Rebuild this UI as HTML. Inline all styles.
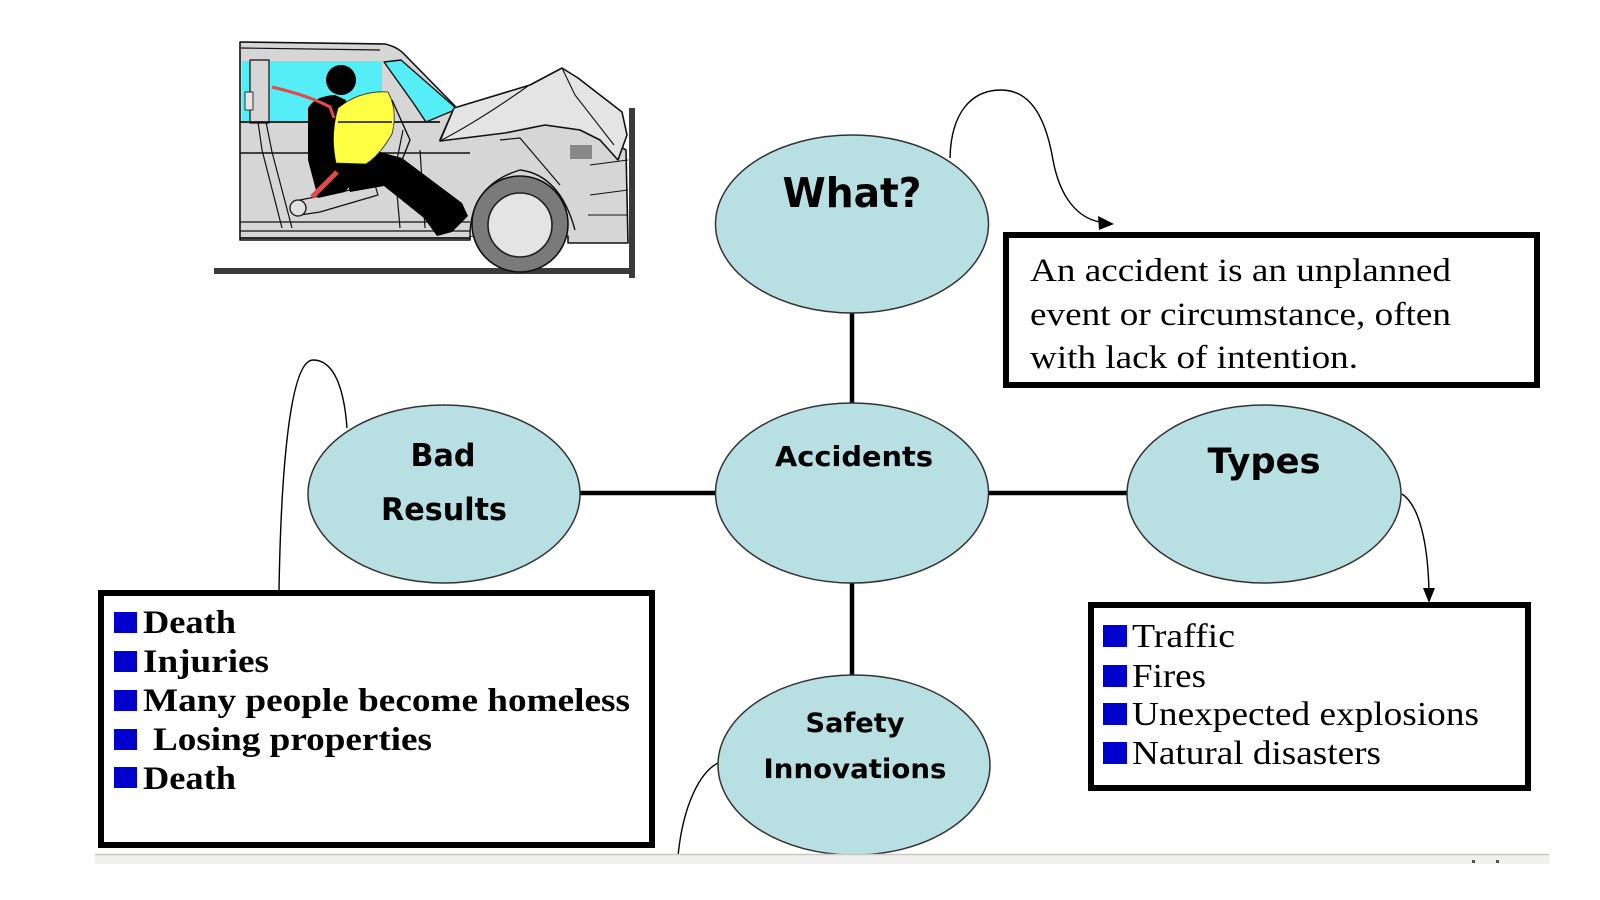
<!DOCTYPE html>
<html>
<head>
<meta charset="utf-8">
<style>
html,body{margin:0;padding:0;background:#fff;}
body{width:1600px;height:900px;overflow:hidden;position:relative;}
svg{position:absolute;left:0;top:0;}
.lbl{font-family:"DejaVu Sans","Liberation Sans",sans-serif;font-weight:bold;fill:#000;}
.ser{font-family:"Liberation Serif","DejaVu Serif",serif;fill:#000;}
.serb{font-family:"Liberation Serif","DejaVu Serif",serif;font-weight:bold;fill:#000;}
</style>
</head>
<body>
<svg width="1600" height="900" viewBox="0 0 1600 900" xmlns="http://www.w3.org/2000/svg">
  <!-- ===== Car illustration ===== -->
  <g stroke-linejoin="round">
    <!-- ground & wall -->
    <rect x="214" y="268" width="418" height="6" fill="#3a3a3a"/>
    <rect x="629" y="108" width="6" height="170" fill="#3a3a3a"/>
    <!-- body -->
    <path d="M240,42 L385,44 Q398,47 405,55 L455,106 L440,140 L530,110 L600,135 L626,150 L628,243 L568,243 L568,236 L470,236 L470,240 L240,240 Z" fill="#d6d6d6" stroke="#111" stroke-width="1.6"/>
    <!-- roof lines -->
    <path d="M241,48 L380,50" stroke="#111" stroke-width="1.2" fill="none"/>
    <!-- rear windows -->
    <rect x="242" y="61" width="140" height="61" fill="#55eef6"/>
    <rect x="250" y="60" width="19" height="63" fill="#d6d6d6" stroke="#111" stroke-width="1.2"/>
    <rect x="245" y="92" width="8" height="18" fill="#e6e6e6" stroke="#333" stroke-width="1"/>
    <!-- windshield -->
    <polygon points="384,62 401,60 457,109 426,122 414,104" fill="#55eef6" stroke="#111" stroke-width="1.4"/>
    <!-- belt lines -->
    <line x1="240" y1="122" x2="440" y2="122" stroke="#111" stroke-width="1.8"/>
    <line x1="240" y1="153" x2="470" y2="153" stroke="#111" stroke-width="1.4"/>
    <line x1="240" y1="222" x2="470" y2="222" stroke="#111" stroke-width="1.2"/>
    <line x1="240" y1="231" x2="470" y2="231" stroke="#111" stroke-width="1.2"/>
    <line x1="240" y1="238" x2="470" y2="238" stroke="#111" stroke-width="1.8"/>
    <!-- door frame lines -->
    <path d="M258,122 L262,150 L282,228" stroke="#111" stroke-width="1.2" fill="none"/>
    <path d="M266,122 L272,152 L292,228" stroke="#111" stroke-width="1.2" fill="none"/>
    <path d="M403,130 L395,170 L400,228" stroke="#111" stroke-width="1.2" fill="none"/>
    <path d="M420,150 L425,228" stroke="#111" stroke-width="1.2" fill="none"/>
    <!-- seat -->
    <path d="M300,200 L350,190 L375,185 L378,195 L320,212 L300,215 Z" fill="#d6d6d6" stroke="#111" stroke-width="1.2"/>
    <circle cx="298" cy="208" r="8" fill="#e0e0e0" stroke="#111" stroke-width="1.3"/>
    <!-- person -->
    <circle cx="341" cy="80" r="15" fill="#000"/>
    <path d="M308,108 Q315,96 335,95 L346,100 L350,160 L362,170 L345,192 L318,198 L308,160 Z" fill="#000"/>
    <path d="M342,165 L380,152 L402,158 L462,203 L468,216 L452,232 L437,236 L424,218 L384,186 L350,192 Z" fill="#000"/>
    <!-- airbag -->
    <path d="M338,108 Q360,90 388,92 Q398,110 392,134 Q380,155 366,164 L336,163 Q330,135 338,108 Z" fill="#ffff44" stroke="#222" stroke-width="0.8"/>
    <line x1="338" y1="122" x2="392" y2="122" stroke="#111" stroke-width="1.4"/>
    <!-- seatbelt -->
    <path d="M272,87 Q310,96 330,107 L334,118" stroke="#e24a4a" stroke-width="3" fill="none"/>
    <line x1="312" y1="197" x2="337" y2="172" stroke="#e24a4a" stroke-width="5"/>
    <!-- steering -->
    <path d="M392,100 L410,140 L402,160" stroke="#111" stroke-width="1.4" fill="none"/>
    <!-- hood crumpled -->
    <path d="M440,141 L454,108 L530,85 L562,68 L578,78 L622,112 L627,135 L618,160 L600,140 L580,130 L545,125 L505,133 Z" fill="#e4e4e4" stroke="#111" stroke-width="1.6"/>
    <path d="M562,68 L575,95 L614,145" stroke="#111" stroke-width="1.1" fill="none"/>
    <path d="M440,141 Q480,120 528,86" stroke="#111" stroke-width="1.1" fill="none"/>
    <!-- fender / front -->
    <path d="M470,236 Q470,185 520,170 Q560,175 575,230" fill="#d6d6d6" stroke="#111" stroke-width="1.4"/>
    <path d="M500,140 L520,138 L560,185" stroke="#111" stroke-width="1.2" fill="none"/>
    <path d="M590,165 L628,160 M590,195 L628,190 M588,215 L628,215" stroke="#111" stroke-width="1.1" fill="none"/>
    <rect x="570" y="145" width="22" height="14" fill="#888"/>
    <!-- wheel -->
    <circle cx="520" cy="224" r="48" fill="#7a7a7a" stroke="#111" stroke-width="1.6"/>
    <circle cx="520" cy="225" r="32" fill="#e4e4e4" stroke="#222" stroke-width="1.6"/>
  </g>

  <!-- ===== Connectors (thick) ===== -->
  <g stroke="#000" stroke-width="4.5">
    <line x1="852" y1="312" x2="852" y2="404"/>
    <line x1="852" y1="582" x2="852" y2="676"/>
    <line x1="580" y1="493" x2="716" y2="493"/>
    <line x1="988" y1="493" x2="1128" y2="493"/>
  </g>

  <!-- ===== Curved connectors ===== -->
  <g fill="none" stroke="#000" stroke-width="1.4">
    <path d="M950,158 C951,112 972,90 1001,90 C1034,90 1047,125 1053,160 C1060,198 1078,218 1100,222"/>
    <path d="M347,428 C344,388 334,360 313,360 C290,360 281,470 279,591"/>
    <path d="M1402,494 C1420,506 1428,545 1429,592"/>
    <path d="M718,763 C700,772 683,805 678,856"/>
  </g>
  <polygon points="1114,224 1098,216 1099,230" fill="#000"/>
  <polygon points="1429,603 1423,588 1435,588" fill="#000"/>

  <!-- ===== Ellipses ===== -->
  <g fill="#b8dfe2" stroke="#333" stroke-width="1.5">
    <ellipse cx="852" cy="224" rx="136.5" ry="89"/>
    <ellipse cx="852" cy="493" rx="136.5" ry="90"/>
    <ellipse cx="444" cy="494" rx="136" ry="89"/>
    <ellipse cx="1264" cy="494" rx="137" ry="89"/>
    <ellipse cx="854" cy="765" rx="136" ry="90"/>
  </g>

  <!-- ellipse labels -->
  <text class="lbl" x="852" y="207" font-size="41" text-anchor="middle" textLength="139" lengthAdjust="spacingAndGlyphs">What?</text>
  <text class="lbl" x="854" y="466" font-size="28" text-anchor="middle" textLength="158" lengthAdjust="spacingAndGlyphs">Accidents</text>
  <text class="lbl" x="443" y="466" font-size="31" text-anchor="middle" textLength="65" lengthAdjust="spacingAndGlyphs">Bad</text>
  <text class="lbl" x="444" y="520" font-size="31" text-anchor="middle" textLength="126" lengthAdjust="spacingAndGlyphs">Results</text>
  <text class="lbl" x="1264" y="473" font-size="35" text-anchor="middle" textLength="113" lengthAdjust="spacingAndGlyphs">Types</text>
  <text class="lbl" x="855" y="732" font-size="27" text-anchor="middle" textLength="99" lengthAdjust="spacingAndGlyphs">Safety</text>
  <text class="lbl" x="855" y="778" font-size="27" text-anchor="middle" textLength="183" lengthAdjust="spacingAndGlyphs">Innovations</text>

  <!-- ===== Boxes ===== -->
  <g fill="#fff" stroke="#000" stroke-width="6">
    <rect x="1006" y="235" width="531" height="150"/>
    <rect x="101" y="593" width="551" height="252"/>
    <rect x="1091" y="605" width="437" height="183"/>
  </g>

  <!-- definition text -->
  <text class="ser" x="1030" y="281" font-size="33" textLength="421" lengthAdjust="spacingAndGlyphs">An accident is an unplanned</text>
  <text class="ser" x="1030" y="325" font-size="33" textLength="421" lengthAdjust="spacingAndGlyphs">event or circumstance, often</text>
  <text class="ser" x="1030" y="368" font-size="33" textLength="328" lengthAdjust="spacingAndGlyphs">with lack of intention.</text>

  <!-- bad results list -->
  <g fill="#0000cc">
    <rect x="114" y="612" width="23" height="21"/>
    <rect x="114" y="651" width="23" height="21"/>
    <rect x="114" y="690" width="23" height="21"/>
    <rect x="114" y="729" width="23" height="21"/>
    <rect x="114" y="767" width="23" height="21"/>
  </g>
  <text class="serb" x="143" y="633" font-size="33" textLength="93" lengthAdjust="spacingAndGlyphs">Death</text>
  <text class="serb" x="143" y="672" font-size="33" textLength="126" lengthAdjust="spacingAndGlyphs">Injuries</text>
  <text class="serb" x="143" y="711" font-size="33" textLength="487" lengthAdjust="spacingAndGlyphs">Many people become homeless</text>
  <text class="serb" x="153" y="750" font-size="33" textLength="279" lengthAdjust="spacingAndGlyphs">Losing properties</text>
  <text class="serb" x="143" y="789" font-size="33" textLength="93" lengthAdjust="spacingAndGlyphs">Death</text>

  <!-- types list -->
  <g fill="#0000cc">
    <rect x="1103" y="625" width="24" height="22"/>
    <rect x="1103" y="665" width="24" height="22"/>
    <rect x="1103" y="703" width="24" height="22"/>
    <rect x="1103" y="742" width="24" height="22"/>
  </g>
  <text class="ser" x="1132" y="647" font-size="34" textLength="103" lengthAdjust="spacingAndGlyphs">Traffic</text>
  <text class="ser" x="1132" y="687" font-size="34" textLength="74" lengthAdjust="spacingAndGlyphs">Fires</text>
  <text class="ser" x="1132" y="725" font-size="34" textLength="347" lengthAdjust="spacingAndGlyphs">Unexpected explosions</text>
  <text class="ser" x="1132" y="764" font-size="34" textLength="249" lengthAdjust="spacingAndGlyphs">Natural disasters</text>

  <!-- bottom gray bar -->
  <rect x="95" y="855" width="1454" height="9" fill="#f0f0ef"/>
  <line x1="95" y1="854.5" x2="1549" y2="854.5" stroke="#c8c8c8" stroke-width="1.5"/>
  <rect x="1472" y="860" width="3" height="3" fill="#555"/>
  <rect x="1496" y="860" width="3" height="3" fill="#555"/>
</svg>
</body>
</html>
